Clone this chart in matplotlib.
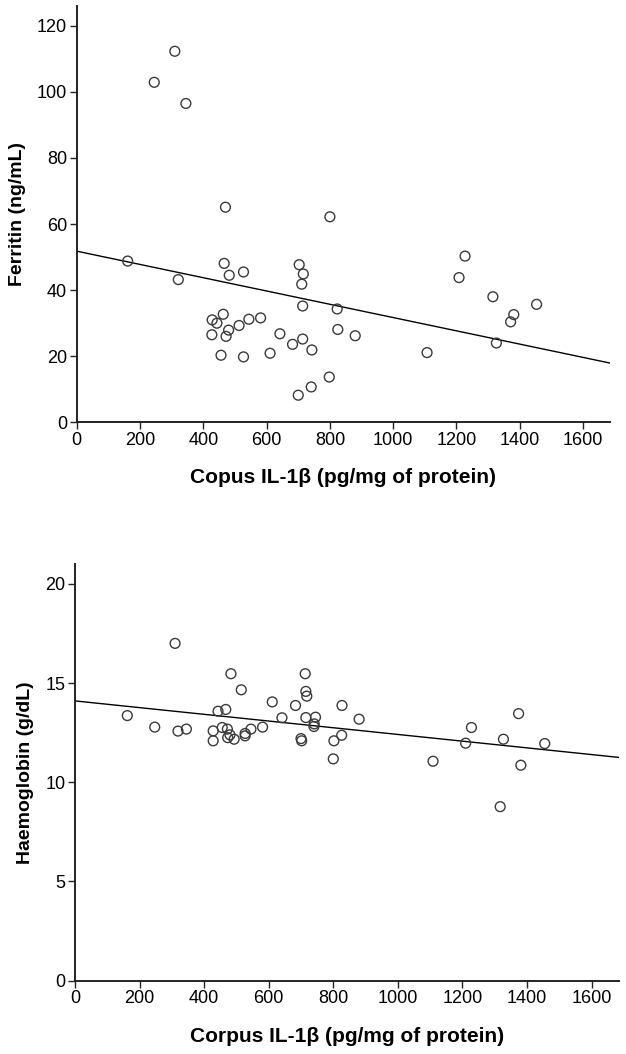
import numpy as np
import matplotlib
matplotlib.use("Agg")
import matplotlib.pyplot as plt

plt.rcParams['font.family'] = ['Liberation Sans', 'DejaVu Sans']

# --- top panel: ferritin vs corpus IL-1b ---
il1b_top = [310, 245, 345, 470, 800, 161, 321, 466, 482, 527, 703, 716, 711, 714,
            428, 443, 463, 427, 472, 480, 513, 544, 581, 456, 527, 642, 611, 682,
            714, 743, 700, 741, 823, 825, 880, 798, 1107, 1227, 1208, 1315, 1326,
            1381, 1371, 1453]
ferritin = [112.3, 102.9, 96.5, 65.1, 62.2, 48.8, 43.2, 48.1, 44.5, 45.5, 47.7, 44.9,
            41.8, 35.2, 31.0, 30.0, 32.7, 26.5, 26.0, 27.9, 29.3, 31.2, 31.6, 20.3,
            19.8, 26.8, 20.9, 23.6, 25.2, 21.9, 8.2, 10.7, 34.3, 28.1, 26.2, 13.7,
            21.1, 50.3, 43.8, 38.0, 24.0, 32.6, 30.4, 35.7]
ferritin_fit = (51.8, -0.0201)   # intercept, slope

# --- bottom panel: haemoglobin vs corpus IL-1b ---
il1b_bot = [310, 483, 515, 162, 247, 319, 345, 443, 467, 428, 428, 456, 472, 480,
            473, 493, 527, 527, 545, 581, 713, 715, 718, 611, 683, 827, 641, 715,
            745, 741, 740, 880, 700, 702, 826, 802, 800, 1374, 1228, 1210, 1327,
            1455, 1381, 1109, 1317]
haemoglobin = [17.0, 15.47, 14.66, 13.36, 12.78, 12.58, 12.68, 13.58, 13.67, 12.59,
               12.09, 12.76, 12.68, 12.39, 12.25, 12.17, 12.46, 12.34, 12.68, 12.78,
               15.47, 14.58, 14.34, 14.05, 13.87, 13.87, 13.25, 13.26, 13.28, 12.94,
               12.81, 13.18, 12.20, 12.09, 12.37, 12.09, 11.18, 13.46, 12.76, 11.97,
               12.17, 11.95, 10.86, 11.06, 8.77]
hb_fit = (14.1, -0.00169)

xmax = 1685
xticks = [0, 200, 400, 600, 800, 1000, 1200, 1400, 1600]

W, H = 626, 1054
fig = plt.figure(figsize=(W / 100, H / 100), dpi=100)


def px_axes(left, right, top, bottom):
    return fig.add_axes([left / W, 1 - bottom / H, (right - left) / W, (bottom - top) / H])


def style(ax, x, y, fit, ylim, yticks, xlabel, ylabel):
    ax.scatter(x, y, s=50, facecolors='none', edgecolors='#3a3a3a', linewidths=1.0, zorder=3)
    xs = np.array([0, xmax])
    ax.plot(xs, fit[0] + fit[1] * xs, color='black', lw=1.0, zorder=2)
    ax.set_xlim(0, xmax)
    ax.set_ylim(*ylim)
    ax.set_xticks(xticks)
    ax.set_yticks(yticks)
    for s in ['top', 'right']:
        ax.spines[s].set_visible(False)
    for s in ['left', 'bottom']:
        ax.spines[s].set_linewidth(1.4)
        ax.spines[s].set_color('#222222')
    ax.tick_params(direction='out', length=5, width=1.0, labelsize=13, pad=2, color='#222222')
    ax.set_xlabel(xlabel, fontsize=15, fontweight='bold', labelpad=14)
    ax.set_ylabel(ylabel, fontsize=14, fontweight='bold', labelpad=8)


ax1 = px_axes(76.7, 610, 6, 422.3)
style(ax1, il1b_top, ferritin, ferritin_fit, (0, 126), [0, 20, 40, 60, 80, 100, 120],
      'Copus IL-1β (pg/mg of protein)', 'Ferritin (ng/mL)')

ax2 = px_axes(75, 619, 564, 980.7)
style(ax2, il1b_bot, haemoglobin, hb_fit, (0, 21), [0, 5, 10, 15, 20],
      'Corpus IL-1β (pg/mg of protein)', 'Haemoglobin (g/dL)')

fig.savefig('out.png', dpi=100)
